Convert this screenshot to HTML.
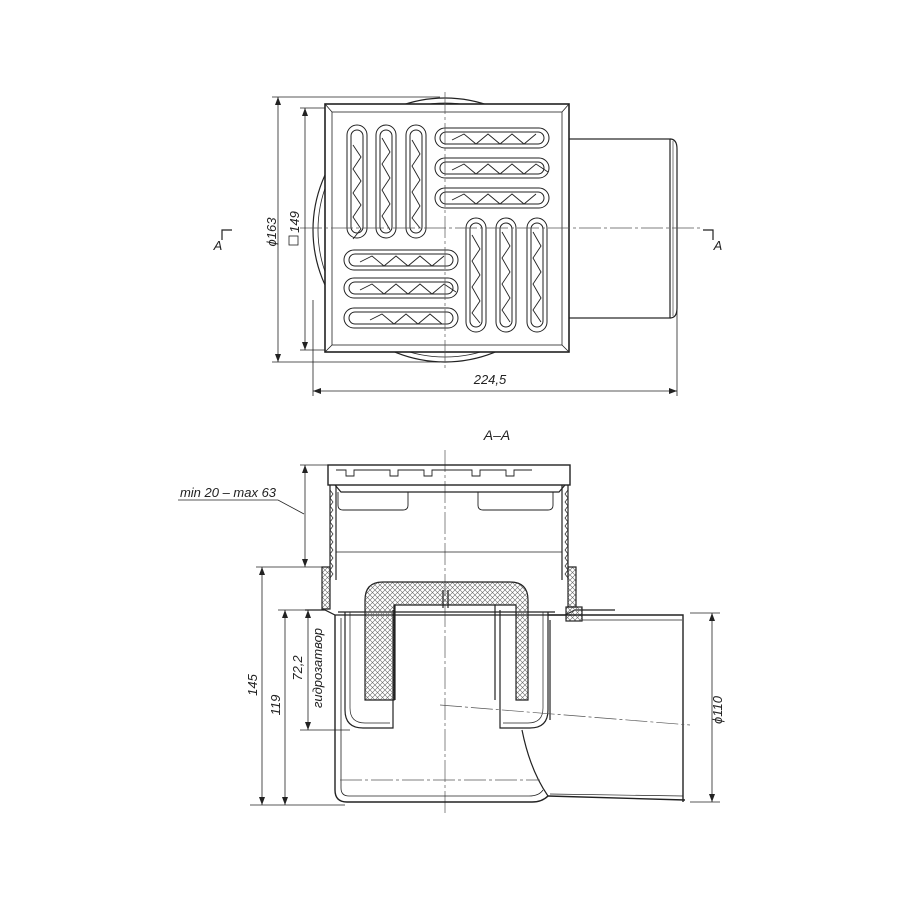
<!DOCTYPE html>
<html><head><meta charset="utf-8"><style>
html,body{margin:0;padding:0;background:#fff;}
svg{display:block;}
text{font-family:"Liberation Sans","DejaVu Sans",sans-serif;font-style:italic;fill:#222;}
</style></head><body>
<svg width="900" height="900" viewBox="0 0 900 900" xmlns="http://www.w3.org/2000/svg">
<defs>
<pattern id="hatch" width="5" height="5" patternUnits="userSpaceOnUse">
<path d="M0 5L5 0M0 0L5 5" stroke="#666" stroke-width="0.6"/>
</pattern>
<marker id="ar" markerWidth="8" markerHeight="6" refX="8" refY="3" orient="auto-start-reverse" markerUnits="userSpaceOnUse"><path d="M0 0L8 3L0 6z" fill="#222"/></marker>
</defs>
<g fill="none" stroke="#222" stroke-width="1.2">
<!-- TOP VIEW -->
<circle cx="445" cy="230" r="132"/>
<circle cx="445" cy="230" r="127" stroke-width="0.8"/>
<rect x="567" y="139" width="103" height="179" fill="#fff"/>
<path d="M670 139q7 0 7 10v159q0 10-7 10" />
<line x1="673" y1="141" x2="673" y2="316" stroke-width="0.6"/>
<rect x="325" y="104" width="244" height="248" fill="#fff" stroke-width="1.6"/>
<rect x="332" y="112" width="230" height="233" stroke-width="0.8"/>
<path d="M325 104L332 112M569 104L562 112M325 352L332 345M569 352L562 345" stroke-width="0.8"/>
<g stroke-width="1">
<rect x="347" y="125" width="20" height="113" rx="10"/><rect x="351" y="130" width="12" height="103" rx="6"/>
<rect x="376" y="125" width="20" height="113" rx="10"/><rect x="380" y="130" width="12" height="103" rx="6"/>
<rect x="406" y="125" width="20" height="113" rx="10"/><rect x="410" y="130" width="12" height="103" rx="6"/>
<rect x="435" y="128" width="114" height="20" rx="10"/><rect x="440" y="132" width="104" height="12" rx="6"/>
<rect x="435" y="158" width="114" height="20" rx="10"/><rect x="440" y="162" width="104" height="12" rx="6"/>
<rect x="435" y="188" width="114" height="20" rx="10"/><rect x="440" y="192" width="104" height="12" rx="6"/>
<rect x="344" y="250" width="114" height="20" rx="10"/><rect x="349" y="254" width="104" height="12" rx="6"/>
<rect x="344" y="278" width="114" height="20" rx="10"/><rect x="349" y="282" width="104" height="12" rx="6"/>
<rect x="344" y="308" width="114" height="20" rx="10"/><rect x="349" y="312" width="104" height="12" rx="6"/>
<rect x="466" y="218" width="20" height="114" rx="10"/><rect x="470" y="223" width="12" height="104" rx="6"/>
<rect x="496" y="218" width="20" height="114" rx="10"/><rect x="500" y="223" width="12" height="104" rx="6"/>
<rect x="527" y="218" width="20" height="114" rx="10"/><rect x="531" y="223" width="12" height="104" rx="6"/>
</g>
<g stroke-width="0.9">
<path d="M353 145l8 12-8 12 8 12-8 12 8 12-8 12 8 12-8 10"/>
<path d="M382 138l8 14-8 12 8 14-8 12 8 14-8 12 8 14"/>
<path d="M412 140l8 14-8 12 8 14-8 12 8 14-8 12 8 10"/>
<path d="M452 140l12-6 12 10 12-10 12 10 12-10 12 10 12-10"/>
<path d="M452 170l12-6 12 10 12-10 12 10 12-10 12 10 12-10 12 8"/>
<path d="M452 200l12-6 12 10 12-10 12 10 12-10 12 10 12-10"/>
<path d="M360 262l12-6 12 10 12-10 12 10 12-10 12 10 12-10"/>
<path d="M360 290l12-6 12 10 12-10 12 10 12-10 12 10 12-10 12 8"/>
<path d="M370 320l12-6 12 10 12-10 12 10 12-10 12 10"/>
<path d="M472 235l8 14-8 12 8 14-8 12 8 14-8 12 8 10"/>
<path d="M502 232l8 14-8 12 8 14-8 12 8 14-8 12 8 12"/>
<path d="M533 232l8 14-8 12 8 14-8 12 8 14-8 12 8 12"/>
</g>
</g>
<g stroke="#555" stroke-width="0.7" stroke-dasharray="22 3 3 3">
<line x1="445" y1="92" x2="445" y2="368"/>
<line x1="300" y1="228" x2="700" y2="228"/>
<line x1="445" y1="450" x2="445" y2="815"/>
</g>
<g stroke="#222" stroke-width="0.8" fill="none">
<line x1="272" y1="97" x2="440" y2="97"/>
<line x1="272" y1="362" x2="440" y2="362"/>
<line x1="278" y1="97" x2="278" y2="362" marker-start="url(#ar)" marker-end="url(#ar)"/>
<line x1="300" y1="108" x2="325" y2="108"/>
<line x1="300" y1="350" x2="325" y2="350"/>
<line x1="305" y1="108" x2="305" y2="350" marker-start="url(#ar)" marker-end="url(#ar)"/>
<line x1="313" y1="300" x2="313" y2="396"/>
<line x1="677" y1="310" x2="677" y2="396"/>
<line x1="313" y1="391" x2="677" y2="391" marker-start="url(#ar)" marker-end="url(#ar)"/>
<path d="M222 240V230h10M713 240V230h-10" stroke-width="1.2"/>
<rect x="289" y="236" width="9" height="9"/>
</g>
<text x="276" y="232" font-size="13" transform="rotate(-90 276 232)" text-anchor="middle">ϕ163</text>
<text x="299" y="222" font-size="13" transform="rotate(-90 299 222)" text-anchor="middle">149</text>
<text x="490" y="384" font-size="13" text-anchor="middle">224,5</text>
<text x="218" y="250" font-size="13" text-anchor="middle" font-style="normal">A</text>
<text x="718" y="250" font-size="13" text-anchor="middle" font-style="normal">A</text>
<text x="497" y="440" font-size="14" text-anchor="middle" font-style="normal">A–A</text>

<g fill="none" stroke="#222" stroke-width="1.2">
<rect x="328" y="465" width="242" height="20" stroke-width="1.4"/>
<path d="M336 470h10v6h8v-6h36v6h8v-6h26v6h8v-6h40v6h8v-6h26v6h8v-6h18" stroke-width="0.9"/>
<path d="M335 485l6 7h218l6-7" />
<path d="M338 492v13q0 5 5 5h60q5 0 5-5v-13M478 492v13q0 5 5 5h65q5 0 5-5v-13" stroke-width="0.9"/>
<path d="M330 485v95M336 485v95M568 485v95M562 485v95" />
<path d="M330 490l3 4-3 4 3 4-3 4 3 4-3 4 3 4-3 4 3 4-3 4 3 4-3 4 3 4-3 4 3 4-3 4 3 4-3 4 3 4-3 4 3 4-3 4" stroke-width="0.7"/>
<path d="M568 490l-3 4 3 4-3 4 3 4-3 4 3 4-3 4 3 4-3 4 3 4-3 4 3 4-3 4 3 4-3 4 3 4-3 4 3 4-3 4 3 4-3 4 3 4" stroke-width="0.7"/>
<line x1="336" y1="552" x2="562" y2="552" stroke-width="0.8"/>
<path d="M322 567h8v42h-8z M568 567h8v40h-8z" fill="url(#hatch)"/>
<path d="M305 610h20l10 5h230l10-5h40" />
<rect x="566" y="607" width="16" height="14" fill="url(#hatch)"/>
<!-- outer body + outlet -->
<path d="M335 615v175q0 12 12 12h185q10 0 16-6" stroke-width="1.4"/>
<path d="M548 796L685 800" stroke-width="1.4"/>
<path d="M341 618v170q0 8 8 8h180q10 0 14-6" stroke-width="0.8"/>
<path d="M550 794L683 796" stroke-width="0.7"/>
<path d="M550 620v100" />
<path d="M548 615h135v187" stroke-width="1.4"/>
<path d="M582 620h100" stroke-width="0.8"/>
<path d="M522 730q8 40 26 66" />
<path d="M345 612v98q0 18 18 18h30v-118M548 612v98q0 18-18 18h-30v-118" />
<path d="M350 612v96q0 15 15 15h25M543 612v96q0 15-15 15h-25" stroke-width="0.7"/>
<line x1="338" y1="612" x2="555" y2="612"/>
<path d="M365 700v-100q0-18 18-18h127q18 0 18 18v100h-12v-95h-122v95z" fill="url(#hatch)"/>
<path d="M395 605v95M495 605v95"/>
<line x1="443" y1="590" x2="443" y2="608"/><line x1="448" y1="590" x2="448" y2="608"/>
</g>
<g stroke="#555" stroke-width="0.7" stroke-dasharray="22 3 3 3" fill="none">
<line x1="440" y1="705" x2="690" y2="725"/>
<line x1="340" y1="780" x2="540" y2="780"/>
</g>
<g stroke="#222" stroke-width="0.8" fill="none">
<line x1="300" y1="465" x2="328" y2="465"/>
<line x1="256" y1="567" x2="322" y2="567"/>
<line x1="305" y1="465" x2="305" y2="567" marker-start="url(#ar)" marker-end="url(#ar)"/>
<line x1="262" y1="567" x2="262" y2="805" marker-start="url(#ar)" marker-end="url(#ar)"/>
<line x1="278" y1="610" x2="320" y2="610"/>
<line x1="285" y1="610" x2="285" y2="805" marker-start="url(#ar)" marker-end="url(#ar)"/>
<line x1="308" y1="610" x2="308" y2="730" marker-start="url(#ar)" marker-end="url(#ar)"/>
<line x1="300" y1="730" x2="350" y2="730"/>
<line x1="250" y1="805" x2="345" y2="805"/>
<line x1="690" y1="613" x2="720" y2="613"/>
<line x1="690" y1="802" x2="720" y2="802"/>
<line x1="712" y1="613" x2="712" y2="802" marker-start="url(#ar)" marker-end="url(#ar)"/>
<path d="M178 500h100l26 14"/>
</g>
<text x="228" y="497" font-size="13" text-anchor="middle">min 20 – max 63</text>
<text x="257" y="685" font-size="13" transform="rotate(-90 257 685)" text-anchor="middle">145</text>
<text x="280" y="705" font-size="13" transform="rotate(-90 280 705)" text-anchor="middle">119</text>
<text x="302" y="668" font-size="13" transform="rotate(-90 302 668)" text-anchor="middle">72,2</text>
<text x="322" y="668" font-size="13" transform="rotate(-90 322 668)" text-anchor="middle">гидрозатвор</text>
<text x="722" y="710" font-size="13" transform="rotate(-90 722 710)" text-anchor="middle">ϕ110</text>
</svg>
</body></html>
